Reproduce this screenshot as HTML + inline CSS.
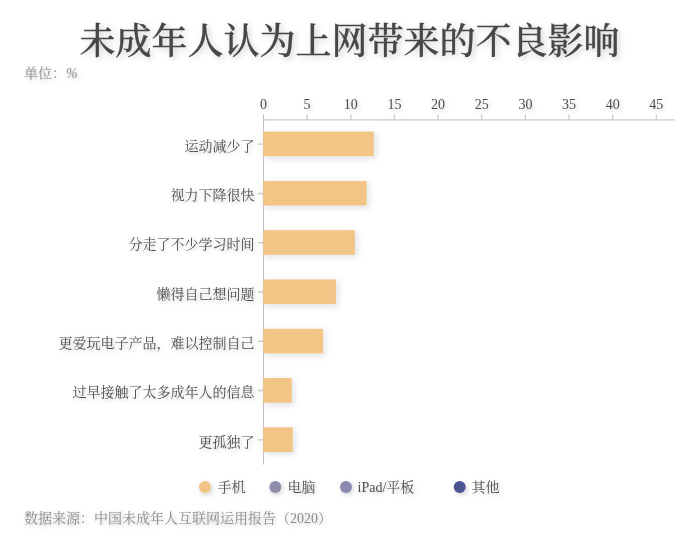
<!DOCTYPE html>
<html lang="zh">
<head>
<meta charset="utf-8">
<title>未成年人认为上网带来的不良影响</title>
<style>
html,body{margin:0;padding:0;background:#fff;}
body{width:700px;height:550px;overflow:hidden;}
svg{display:block;}
text{font-family:"Liberation Serif","Noto Serif CJK SC",serif;}
.ts{filter:url(#tsh);}
</style>
</head>
<body>
<svg width="700" height="550" viewBox="0 0 700 550">
<defs>
<filter id="tsh" x="-20%" y="-50%" width="140%" height="220%">
<feDropShadow dx="2" dy="2" stdDeviation="3" flood-color="#000" flood-opacity="0.2"/>
</filter>
<filter id="ssh" x="-20%" y="-50%" width="140%" height="220%">
<feDropShadow dx="1.5" dy="1.5" stdDeviation="2.2" flood-color="#000" flood-opacity="0.22"/>
</filter>
<filter id="bsh" x="-20%" y="-50%" width="140%" height="200%">
<feDropShadow dx="2" dy="2" stdDeviation="3" flood-color="#1a2a3a" flood-opacity="0.14"/>
</filter>
<filter id="csh" x="-60%" y="-60%" width="240%" height="240%">
<feDropShadow dx="1.5" dy="2" stdDeviation="2.5" flood-color="#000" flood-opacity="0.18"/>
</filter>
</defs>
<rect width="700" height="550" fill="#fff"/>
<text x="349.6" y="54" text-anchor="middle" font-size="36" font-weight="500" fill="#464646" stroke="#464646" stroke-width="0.3" filter="url(#tsh)">未成年人认为上网带来的不良影响</text>
<text x="24" y="78" font-size="14" fill="#8a8a8a" filter="url(#ssh)">单位：<tspan font-style="italic">%</tspan></text>

<!-- axes -->
<g stroke="#ccc" stroke-width="1.4" fill="none">
<path d="M263 119.85H675"/>
<path d="M307.14 114.4V120M350.79 114.4V120M394.43 114.4V120M438.08 114.4V120M481.72 114.4V120M525.37 114.4V120M569.01 114.4V120M612.66 114.4V120M656.30 114.4V120"/>
<path d="M258 144.14H263M258 193.43H263M258 242.71H263M258 292.00H263M258 341.29H263M258 390.57H263M258 439.86H263"/>
<path d="M263.5 114.4V464.6" stroke="#c2c2c2" stroke-width="1"/>
</g>
<g font-size="14" fill="#4e4e4e" text-anchor="middle" filter="url(#ssh)">
<text x="263.5" y="109">0</text>
<text x="307.1" y="109">5</text>
<text x="350.8" y="109">10</text>
<text x="394.4" y="109">15</text>
<text x="438.1" y="109">20</text>
<text x="481.7" y="109">25</text>
<text x="525.4" y="109">30</text>
<text x="569.0" y="109">35</text>
<text x="612.7" y="109">40</text>
<text x="656.3" y="109">45</text>
</g>
<g fill="#f2c586" filter="url(#bsh)">
<rect x="263.2" y="131.62" width="110.6" height="24.64"/>
<rect x="263.2" y="180.91" width="103.4" height="24.64"/>
<rect x="263.2" y="230.19" width="91.7" height="24.64"/>
<rect x="263.2" y="279.48" width="72.7" height="24.64"/>
<rect x="263.2" y="328.77" width="59.9" height="24.64"/>
<rect x="263.2" y="378.05" width="28.5" height="24.64"/>
<rect x="263.2" y="427.34" width="29.6" height="24.64"/>
</g>
<g font-size="14" fill="#4e4e4e" text-anchor="end" filter="url(#ssh)">
<text x="254.5" y="150.8">运动减少了</text>
<text x="254.5" y="200.1">视力下降很快</text>
<text x="254.5" y="249.4">分走了不少学习时间</text>
<text x="254.5" y="298.7">懒得自己想问题</text>
<text x="254.5" y="348.0">更爱玩电子产品，难以控制自己</text>
<text x="254.5" y="397.3">过早接触了太多成年人的信息</text>
<text x="254.5" y="446.6">更孤独了</text>
</g>
<g filter="url(#csh)">
<circle cx="204.9" cy="487" r="6" fill="#f2c586"/>
<circle cx="275.3" cy="487" r="6" fill="#8e8eac"/>
<circle cx="346" cy="487" r="6" fill="#8a89b0"/>
<circle cx="459.7" cy="487" r="6" fill="#4c5493"/>
</g>
<g font-size="14" fill="#4e4e4e" filter="url(#ssh)">
<text x="217.4" y="492.4">手机</text>
<text x="287.4" y="492.4">电脑</text>
<text x="357.6" y="492.4">iPad/平板</text>
<text x="471.5" y="492.4">其他</text>
</g>
<text x="24" y="522.7" font-size="14" fill="#8a8a8a" filter="url(#ssh)">数据来源：中国未成年人互联网运用报告（2020）</text>
</svg>
</body>
</html>
